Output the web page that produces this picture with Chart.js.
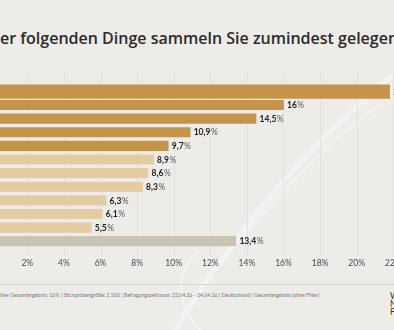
<!DOCTYPE html>
<html>
<head>
<meta charset="utf-8">
<script src="https://cdn.jsdelivr.net/npm/chart.js@4.4.1/dist/chart.umd.min.js"></script>
<style>
  html, body { margin: 0; padding: 0; }
  body { width: 394px; height: 330px; overflow: hidden; position: relative; background: #EEECE8; font-family: Lato, "Open Sans", sans-serif; }
  #decor { position: absolute; left: 0; top: 0; }
  #title { position: absolute; left: 0; top: 30px; font-family: "Open Sans", sans-serif; font-size: 16px; line-height: 16px; font-weight: 600; color: #2b2b2b; white-space: nowrap; }
  #wrap { position: absolute; left: -40px; top: 0; }
  #rule { position: absolute; left: 0; top: 284px; width: 394px; height: 1px; background: #D8D5CF; }
  #note { position: absolute; left: 0; top: 292px; font-size: 5.2px; color: #777; white-space: nowrap; }
  #logo { position: absolute; left: 390px; top: 292px; font-size: 8.5px; line-height: 8px; color: #333; }
</style>
</head>
<body>
<svg id="decor" width="394" height="330">
  <path d="M 175 330 C 230 240, 300 150, 394 75" stroke="#F6F5F2" stroke-width="5" fill="none" opacity="0.8"/>
  <path d="M 215 270 C 280 190, 340 130, 394 95" stroke="#F6F5F2" stroke-width="3" fill="none" opacity="0.7"/>
  <path d="M 200 250 C 170 275, 180 310, 200 330" stroke="#F8F7F4" stroke-width="2" fill="none" opacity="0.8"/>
</svg>
<div id="title">er folgenden Dinge sammeln Sie zumindest gelegentlich?</div>
<div id="wrap"><canvas id="myChart" width="500" height="280"></canvas></div>
<div id="rule"></div>
<div id="note">hier Gesamtergebnis: 16% | Stichprobengröße: 2.500 | Befragungszeitraum: 22.04.26 - 24.04.26 | Deutschland | Gesamtergebnis (ohne Filter)</div>
<div id="logo">W<br>N<br>F</div>
<script>
  const categories = ['Antwort 1', 'Antwort 2', 'Antwort 3', 'Antwort 4', 'Antwort 5', 'Antwort 6',
                      'Antwort 7', 'Antwort 8', 'Antwort 9', 'Antwort 10', 'Antwort 11', 'Antwort 12'];
  const values = [21.8, 16, 14.5, 10.9, 9.7, 8.9, 8.6, 8.3, 6.3, 6.1, 5.5, 13.4];
  const xTicks = [0, 2, 4, 6, 8, 10, 12, 14, 16, 18, 20, 22, 24];

  const dark = '#C4944A', light = '#E4CCA2', grey = '#C9C5B3';
  const colorFor = (i) => i < 5 ? dark : (i < 11 ? light : grey);

  // first bar is drawn thicker, so it gets its own dataset
  const firstOnly = values.map((v, i) => i === 0 ? v : null);
  const rest = values.map((v, i) => i === 0 ? null : v);

  const gridPlugin = {
    id: 'longGrid',
    beforeDatasetsDraw(chart) {
      const ctx = chart.ctx, x = chart.scales.x;
      ctx.save();
      ctx.strokeStyle = '#E3E1DC';
      ctx.lineWidth = 1;
      xTicks.forEach(t => {
        const px = Math.round(x.getPixelForValue(t)) + 0.5;
        ctx.beginPath();
        ctx.moveTo(px, 72);
        ctx.lineTo(px, 256);
        ctx.stroke();
      });
      ctx.restore();
    }
  };

  const labelPlugin = {
    id: 'valueLabels',
    afterDatasetsDraw(chart) {
      const ctx = chart.ctx;
      ctx.save();
      ctx.textBaseline = 'middle';
      chart.data.datasets.forEach((ds, di) => {
        chart.getDatasetMeta(di).data.forEach((bar, i) => {
          if (ds.data[i] == null) return;
          const num = String(ds.data[i]).replace('.', ',');
          let px = bar.x + 3.5;
          ctx.font = 'bold 8.5px Lato';
          ctx.fillStyle = '#222';
          ctx.fillText(num, px, bar.y + 0.5);
          px += ctx.measureText(num).width + 0.5;
          ctx.font = '8.5px Lato';
          ctx.fillStyle = '#555';
          ctx.fillText('%', px, bar.y + 0.5);
        });
      });
      ctx.restore();
    }
  };

  const ctx = document.getElementById('myChart').getContext('2d');
  const myChart = new Chart(ctx, {
    type: 'bar',
    data: {
      labels: categories,
      datasets: [{
        data: firstOnly,
        backgroundColor: values.map((v, i) => colorFor(i)),
        barThickness: 14,
        grouped: false
      }, {
        data: rest,
        backgroundColor: values.map((v, i) => colorFor(i)),
        barThickness: 9.5,
        grouped: false
      }]
    },
    options: {
      indexAxis: 'y',
      responsive: false,
      animation: false,
      devicePixelRatio: 1,
      layout: { padding: { left: 30.7, right: 30.1, top: 84.6, bottom: 12 } },
      plugins: { legend: { display: false }, tooltip: { enabled: false } },
      scales: {
        x: {
          min: 0,
          max: 24,
          grid: { display: false, drawTicks: false, tickLength: 0 },
          border: { display: false },
          afterBuildTicks: (axis) => { axis.ticks = xTicks.map(v => ({ value: v })); },
          afterFit: (axis) => { axis.height = 20; },
          ticks: {
            padding: 10,
            color: '#4a4a4a',
            font: { family: 'Lato', size: 8.5 },
            maxRotation: 0,
            autoSkip: false,
            callback: (v) => v + '%'
          }
        },
        y: { display: false }
      }
    },
    plugins: [gridPlugin, labelPlugin]
  });
</script>
</body>
</html>
